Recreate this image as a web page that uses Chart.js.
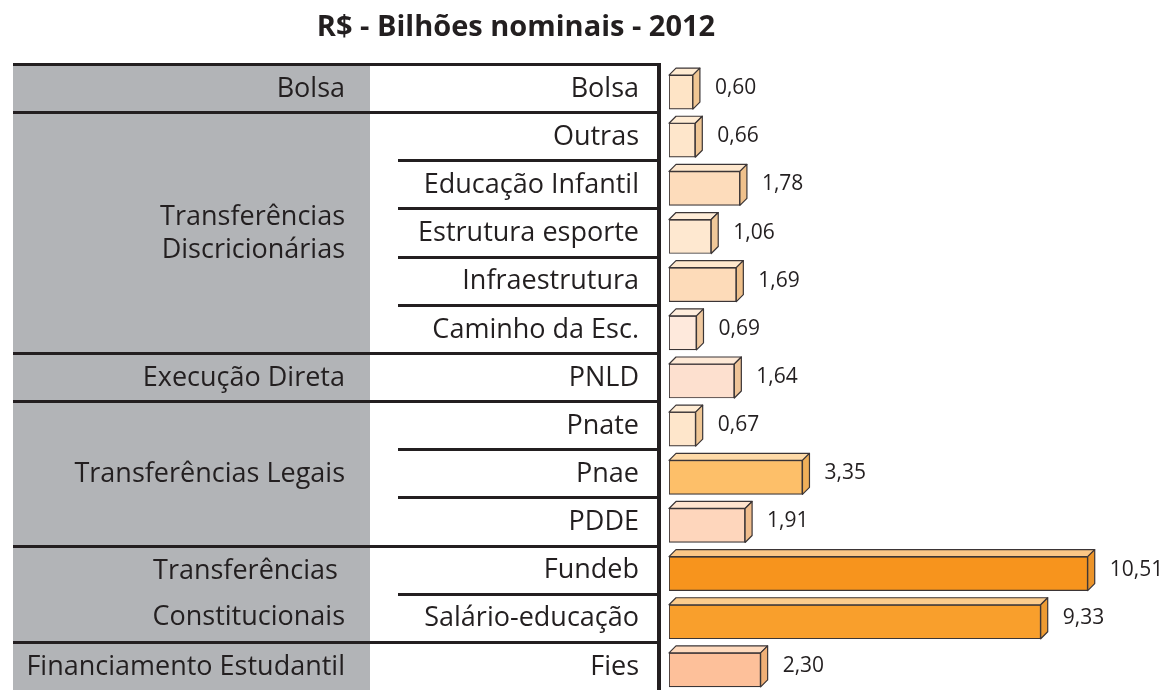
<!DOCTYPE html>
<html>
<head>
<meta charset="utf-8">
<script src="https://cdn.jsdelivr.net/npm/chart.js@4.4.1/dist/chart.umd.min.js"></script>
<style>
  html, body { margin: 0; padding: 0; background: #ffffff; overflow: hidden; }
  #wrap { width: 1174px; height: 694px; position: relative; }
</style>
</head>
<body>
<div id="wrap"><canvas id="c" width="1174" height="694"></canvas></div>
<script>
// ---- DATA ----
const title = 'R$ - Bilhões nominais - 2012';
const categories = ['Bolsa', 'Outras', 'Educação Infantil', 'Estrutura esporte', 'Infraestrutura',
  'Caminho da Esc.', 'PNLD', 'Pnate', 'Pnae', 'PDDE', 'Fundeb', 'Salário-educação', 'Fies'];
const values = [0.60, 0.66, 1.78, 1.06, 1.69, 0.69, 1.64, 0.67, 3.35, 1.91, 10.51, 9.33, 2.30];
const groupLabels = [['Bolsa'], ['Transferências', 'Discricionárias'], ['Execução Direta'],
  ['Transferências Legais'], ['Transferências ', 'Constitucionais'], ['Financiamento Estudantil']];
const groupSizes = [1, 5, 1, 3, 2, 1];
const barColors = ['#fee4c6', '#fee6cb', '#fddcbb', '#fee8d0', '#fddbb9', '#fee9dc', '#fde0cf',
  '#fee6cb', '#fdbf69', '#fed6bc', '#f7941d', '#f99f2c', '#fdc09a'];

// ---- STYLE ----
const INK = '#231f20';
const GRAY = '#b2b4b7';
const FONT = '"Open Sans", "Noto Sans", sans-serif';
const groupLineGap = [0, 33, 0, 0, 46, 0];
const DEPTH = 7;
const ROW_SHIFT = 4;

function hexToRgb(h) { h = h.replace('#', ''); return [0, 2, 4].map(i => parseInt(h.substr(i, 2), 16)); }
function mix(a, b, t) {
  const A = hexToRgb(a), B = hexToRgb(b);
  return 'rgb(' + A.map((v, i) => Math.round(v * (1 - t) + B[i] * t)).join(',') + ')';
}

const tablePlugin = {
  id: 'table',
  beforeDatasetsDraw(chart) {
    const ctx = chart.ctx;
    const n = categories.length;
    const band = (chart.chartArea.bottom - chart.chartArea.top) / n;
    const top = chart.chartArea.top - ROW_SHIFT;
    const rowTop = i => top + i * band;
    const rowMid = i => top + (i + 0.5) * band;
    ctx.save();
    // gray group column
    ctx.fillStyle = GRAY;
    ctx.fillRect(13, top, 357, band * n + 2);
    // lines
    ctx.strokeStyle = INK;
    ctx.lineWidth = 3;
    let idx = 0;
    const fullLines = new Set([0]);
    groupSizes.forEach(s => { idx += s; fullLines.add(idx); });
    for (let i = 0; i < n; i++) {
      const yy = Math.round(rowTop(i)) + 0.5;
      ctx.beginPath();
      if (fullLines.has(i)) ctx.moveTo(13, yy); else ctx.moveTo(398, yy);
      ctx.lineTo(659, yy);
      ctx.stroke();
    }
    // sub labels
    ctx.fillStyle = INK;
    ctx.font = '27px ' + FONT;
    ctx.textAlign = 'right';
    ctx.textBaseline = 'middle';
    categories.forEach((c, i) => ctx.fillText(c, 639, rowMid(i) + 1));
    // group labels
    let start = 0;
    groupLabels.forEach((lines, g) => {
      const s = groupSizes[g];
      const mid = top + (start + s / 2) * band;
      const gap = groupLineGap[g];
      lines.forEach((t, k) => {
        const off = (k - (lines.length - 1) / 2) * gap;
        ctx.fillText(t, 345, mid + off + 1);
      });
      start += s;
    });
    // axis line
    ctx.lineWidth = 4;
    ctx.beginPath();
    ctx.moveTo(659, top - 1);
    ctx.lineTo(659, chart.height);
    ctx.stroke();
    // title
    ctx.font = 'bold 29px ' + FONT;
    ctx.textAlign = 'center';
    ctx.fillText(title, 516, 28);
    ctx.restore();
  },
  afterDatasetsDraw(chart) {
    const ctx = chart.ctx;
    const meta = chart.getDatasetMeta(0);
    ctx.save();
    ctx.strokeStyle = '#3b3536';
    ctx.lineWidth = 1.2;
    ctx.lineJoin = 'round';
    meta.data.forEach((bar, i) => {
      const p = bar.getProps(['x', 'y', 'base', 'height'], true);
      const x0 = p.base, x1 = p.x, t = p.y - p.height / 2, b = p.y + p.height / 2;
      const c = barColors[i];
      // top face
      ctx.fillStyle = mix(c, '#fff0dc', 0.55);
      ctx.beginPath();
      ctx.moveTo(x0, t); ctx.lineTo(x0 + DEPTH, t - DEPTH); ctx.lineTo(x1 + DEPTH, t - DEPTH); ctx.lineTo(x1, t); ctx.closePath();
      ctx.fill(); ctx.stroke();
      // side face
      ctx.fillStyle = mix(c, '#d9953f', 0.38);
      ctx.beginPath();
      ctx.moveTo(x1, t); ctx.lineTo(x1 + DEPTH, t - DEPTH); ctx.lineTo(x1 + DEPTH, b - DEPTH); ctx.lineTo(x1, b); ctx.closePath();
      ctx.fill(); ctx.stroke();
      // value label
      ctx.fillStyle = INK;
      ctx.font = '21px ' + FONT;
      ctx.textAlign = 'left';
      ctx.textBaseline = 'middle';
      ctx.fillText(values[i].toFixed(2).replace('.', ','), x1 + DEPTH + 15, p.y - 4);
    });
    ctx.restore();
  }
};

new Chart(document.getElementById('c'), {
  type: 'bar',
  data: {
    labels: categories,
    datasets: [{
      data: values,
      backgroundColor: barColors,
      borderColor: '#3b3536',
      borderWidth: 1.2,
      borderSkipped: false,
      barThickness: 34
    }]
  },
  options: {
    indexAxis: 'y',
    responsive: false,
    animation: false,
    devicePixelRatio: 1,
    layout: { padding: { left: 669, right: 7, top: 68, bottom: 0 } },
    plugins: { legend: { display: false }, tooltip: { enabled: false } },
    scales: {
      x: { display: false, min: 0, max: 12.5 },
      y: { display: false, offset: true, grid: { display: false } }
    }
  },
  plugins: [tablePlugin]
});
</script>
</body>
</html>
